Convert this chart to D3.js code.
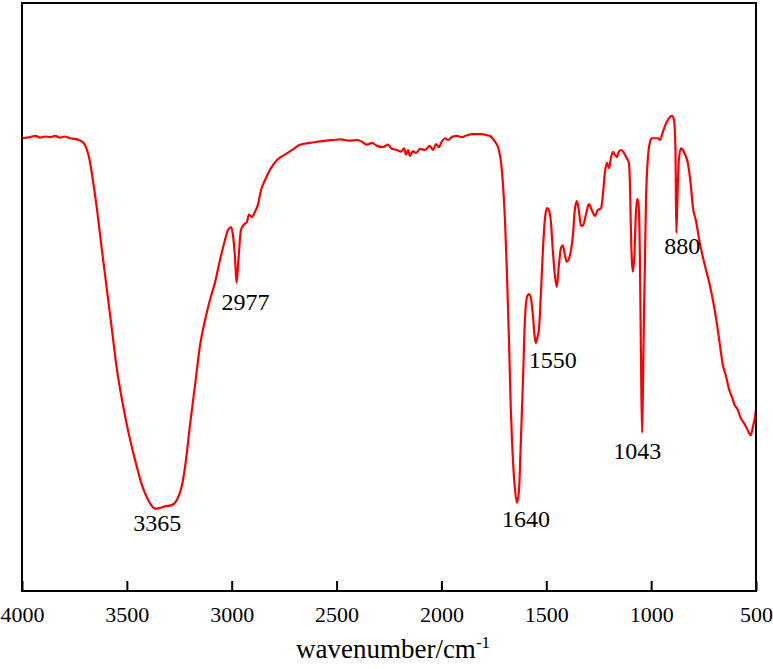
<!DOCTYPE html>
<html>
<head>
<meta charset="utf-8">
<script src="https://cdn.jsdelivr.net/npm/d3@7"></script>
<style>
  body { margin: 0; background: #fff; }
  svg { display: block; font-family: "Liberation Serif", "Times New Roman", serif; }
</style>
</head>
<body>
<div id="visu"></div>
<script>
// FTIR spectrum, values
var wavenumber = [4000, 3962, 3935, 3914, 3890, 3866, 3842, 3819, 3795, 3771, 3747, 3723, 3704, 3690, 3676, 3666,
    3642, 3619, 3595, 3571, 3547, 3523, 3495, 3461, 3428, 3399, 3380, 3365, 3345, 3318, 3285, 3261, 3237, 3218,
    3199, 3175, 3151, 3127, 3104, 3080, 3056, 3032, 3018, 3003, 2994, 2984, 2977, 2968, 2956, 2942, 2927, 2918,
    2903, 2889, 2875, 2860, 2841, 2818, 2784, 2746, 2700, 2675, 2630, 2593, 2550, 2517, 2480, 2440, 2403, 2379,
    2355, 2331, 2307, 2279, 2255, 2236, 2212, 2193, 2178, 2169, 2159, 2150, 2136, 2121, 2102, 2078, 2055, 2040,
    2026, 2012, 1997, 1983, 1969, 1950, 1926, 1902, 1878, 1855, 1831, 1807, 1783, 1769, 1755, 1740, 1726, 1716,
    1707, 1697, 1688, 1678, 1669, 1659, 1649, 1640, 1630, 1621, 1611, 1602, 1592, 1583, 1573, 1564, 1556, 1550,
    1540, 1535, 1526, 1516, 1507, 1497, 1488, 1478, 1469, 1459, 1450, 1440, 1430, 1421, 1411, 1402, 1387, 1373,
    1364, 1354, 1345, 1335, 1326, 1311, 1297, 1283, 1268, 1254, 1239, 1230, 1220, 1211, 1201, 1192, 1182, 1173,
    1163, 1154, 1144, 1135, 1125, 1116, 1106, 1101, 1097, 1092, 1087, 1080, 1073, 1066, 1059, 1054, 1050, 1047,
    1043, 1039, 1035, 1030, 1025, 1018, 1012, 1005, 997, 982, 968, 958, 944, 925, 910, 901, 891, 884, 880, 875,
    868, 858, 849, 839, 825, 811, 801, 787, 768, 744, 720, 701, 687, 672, 658, 644, 630, 615, 601, 587, 573, 558,
    544, 535, 525, 516, 506, 500];

var transmittance = [77.0, 77.2, 77.4, 77.1, 77.3, 77.2, 77.4, 77.1, 77.3, 77.0, 76.9, 76.6, 76.1, 75.0, 73.0, 70.8,
    64.8, 58.0, 51.2, 44.4, 37.6, 32.5, 27.4, 22.3, 18.0, 15.5, 14.4, 14.0, 14.1, 14.4, 14.6, 15.5, 18.0, 22.3,
    28.2, 35.0, 41.8, 46.1, 49.5, 52.4, 56.3, 59.7, 61.4, 61.9, 60.5, 56.5, 52.4, 56.3, 61.4, 62.3, 62.8, 64.0,
    63.6, 64.5, 65.7, 68.2, 69.9, 71.6, 73.3, 74.2, 75.3, 75.9, 76.2, 76.4, 76.6, 76.7, 76.8, 76.6, 76.7, 76.4,
    75.9, 76.2, 75.7, 75.5, 75.9, 75.2, 75.0, 74.7, 75.3, 74.2, 75.0, 74.0, 74.8, 74.5, 75.2, 75.0, 75.7, 75.0,
    76.0, 75.5, 76.5, 77.0, 76.7, 77.2, 77.4, 77.2, 77.5, 77.7, 77.7, 77.7, 77.5, 77.4, 76.9, 76.2, 75.0, 73.0,
    69.4, 63.1, 54.6, 42.7, 30.8, 22.3, 17.2, 15.0, 17.2, 25.7, 35.9, 46.1, 50.0, 50.5, 49.8, 46.9, 43.5, 42.2,
    43.5, 44.4, 50.3, 58.0, 63.1, 65.1, 64.8, 62.8, 58.0, 53.7, 51.7, 55.4, 58.3, 58.8, 57.1, 56.0, 57.1, 60.5,
    64.8, 66.3, 64.8, 62.2, 62.1, 64.0, 65.8, 64.8, 63.8, 64.8, 65.1, 67.4, 71.3, 72.8, 71.9, 73.6, 74.7, 74.2,
    73.8, 74.7, 75.0, 74.8, 74.2, 73.6, 72.8, 69.1, 62.2, 56.3, 54.3, 57.1, 64.0, 66.7, 65.3, 57.7, 45.0, 35.0,
    26.9, 35.0, 45.0, 55.0, 65.7, 72.3, 75.0, 76.4, 77.0, 77.0, 77.0, 76.7, 78.1, 79.8, 80.6, 80.8, 80.1, 75.0, 60.9, 66.5,
    73.3, 75.3, 75.0, 74.3, 72.8, 69.1, 65.3, 63.1, 59.2, 55.4, 52.0, 48.6, 45.6, 41.8, 38.4, 36.7, 34.5, 33.0, 31.6, 30.8, 29.4, 28.6,
    27.7, 27.0, 26.5, 27.7, 29.4, 30.8];

var xTicks = [4000, 3500, 3000, 2500, 2000, 1500, 1000, 500];

var peakLabels = ["3365", "2977", "1640", "1550", "1043", "880"];
var peakWn = [3365, 2977, 1640, 1550, 1043, 880];
var peakT = [14.0, 52.4, 15.0, 42.2, 26.9, 60.9];
// label offset from the bottom of each band, in px
var peakDx = [2, 9, 9, 17, -5, 6];
var peakDy = [14, 19, 16, 17, 18, 13];

var width = 773, height = 669;
var margin = { top: 3, right: 17, bottom: 78, left: 22 };
var w = width - margin.left - margin.right,
    h = height - margin.top - margin.bottom;

var svg = d3.select("#visu").append("svg")
    .attr("width", width)
    .attr("height", height);

var g = svg.append("g")
    .attr("transform", "translate(" + margin.left + "," + margin.top + ")");

var x = d3.scaleLinear().domain([4000, 500]).range([0, w]);
var y = d3.scaleLinear().domain([0, 100]).range([h, 0]);

var data = wavenumber.map(function (wn, i) {
    return { wn: wn, t: transmittance[i] };
});

var line = d3.line()
    .x(function (d) { return x(d.wn); })
    .y(function (d) { return y(d.t); })
    .curve(d3.curveMonotoneX);

g.append("path")
    .datum(data)
    .attr("fill", "none")
    .attr("stroke", "#ff0000")
    .attr("stroke-width", 2.2)
    .attr("stroke-linejoin", "round")
    .attr("d", line);

// bottom axis, ticks pointing inward
var xAxis = d3.axisBottom(x)
    .tickValues(xTicks)
    .tickFormat(d3.format("d"))
    .tickSizeInner(-10)
    .tickSizeOuter(0)
    .tickPadding(15);

var ax = g.append("g")
    .attr("transform", "translate(0," + h + ")")
    .call(xAxis);
ax.select(".domain").remove();
ax.selectAll(".tick line").attr("stroke", "#000").attr("stroke-width", 2);
ax.selectAll(".tick text")
    .attr("fill", "#000")
    .style("font-size", "22px")
    .style("font-family", "'Liberation Serif', 'Times New Roman', serif");

// frame
g.append("rect")
    .attr("x", 0).attr("y", 0)
    .attr("width", w).attr("height", h)
    .attr("fill", "none")
    .attr("stroke", "#000")
    .attr("stroke-width", 2);

// peak annotations
peakLabels.forEach(function (lab, i) {
    g.append("text")
        .attr("x", x(peakWn[i]) + peakDx[i])
        .attr("y", y(peakT[i]) + peakDy[i])
        .attr("text-anchor", "middle")
        .attr("dominant-baseline", "central")
        .style("font-size", "24px")
        .attr("fill", "#000")
        .text(lab);
});

// axis title
var title = svg.append("text")
    .attr("x", margin.left + w / 2 + 4)
    .attr("y", 658)
    .attr("text-anchor", "middle")
    .style("font-size", "27px")
    .attr("fill", "#000");
title.append("tspan").text("wavenumber/cm");
title.append("tspan")
    .attr("dy", "-10")
    .style("font-size", "17px")
    .text("-1");
</script>
</body>
</html>
